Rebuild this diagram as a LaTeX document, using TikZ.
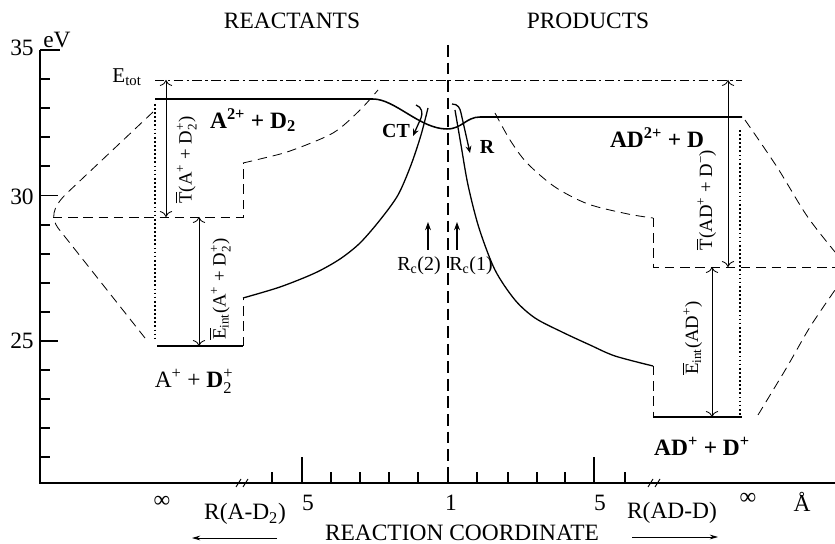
\documentclass[tikz,border=0pt]{standalone}
\usepackage{amsmath}
\usepackage{fontspec}
\setmainfont{Liberation Serif}
\usetikzlibrary{arrows.meta,positioning}

\newcommand{\ov}[1]{$\overline{\mbox{#1}}$}
\newcommand{\su}[1]{\textsuperscript{#1}}
\newcommand{\lo}[1]{\textsubscript{#1}}
\newcommand{\supsub}[2]{$^{\text{#1}}_{\text{#2}}$}

\begin{document}
\begin{tikzpicture}[x=0.03cm,y=-0.03cm,
  axisline/.style={line width=1.7pt},
  eline/.style={line width=1.3pt},
  curve/.style={line width=1.1pt},
  dashcurve/.style={line width=0.7pt,dash pattern=on 8pt off 5pt},
  dotline/.style={line width=0.9pt,dash pattern=on 1.5pt off 2pt},
  totline/.style={line width=0.7pt,dash pattern=on 8pt off 3pt on 2pt off 3pt},
  centerdash/.style={line width=0.9pt,dash pattern=on 10pt off 5pt},
  dimarrow/.style={line width=0.7pt,{To[length=5pt]}-{To[length=5pt]}},
  uparrow/.style={line width=0.9pt,-{Stealth[length=7pt,width=5pt]}},
  txt/.style={inner sep=0pt,font=\fontsize{20}{24}\selectfont},
  boldtxt/.style={inner sep=0pt,font=\fontsize{20}{24}\selectfont\bfseries},
  smalltxt/.style={inner sep=0pt,font=\fontsize{16}{19}\selectfont}]
\useasboundingbox (0,0) rectangle (835,544);

% Axes
\draw[axisline] (40,50) -- (40,483) -- (835,483);
\draw[axisline] (40,50) -- (60,50);
\foreach \i in {1,...,14}
  \draw[axisline] (40,50+29.1*\i) -- ++(10,0);
\foreach \i in {5,10}
  \draw[axisline] (40,50+29.1*\i) -- ++(18,0);
\foreach \x in {272,331,360,389,418,477,508,537,565,625}
  \draw[axisline] (\x,483) -- ++(0,-11);
\foreach \x in {302,594}
  \draw[axisline] (\x,483) -- ++(0,-26);
\draw[axisline] (448,483) -- ++(0,-16);
\foreach \x in {243,655}
  \draw[line width=0.8pt] (\x-7,487) -- (\x-2,479) (\x,487) -- (\x+5,479);

\node[txt] (n35) at (22,48) {35};
\node[txt] (n30) at (22,197) {30};
\node[txt] (n25) at (22,341) {25};
\node[txt] (ev) at (57,40) {eV};

% Center line
\coordinate (ctop) at (448,45);
\coordinate (cbot) at (448,483);
\draw[centerdash] (ctop) -- (cbot);

% Total energy and levels
\draw[totline] (155,80) -- (742,80);
\node[inner sep=0pt,font=\fontsize{18}{21}\selectfont] (etot) at (127,77) {E\lo{tot}};
\draw[eline] (155,99) -- (373,99) .. controls (395,99) and (420,129) .. (447,129)
  .. controls (462,129) and (466,117) .. (480,117) -- (742,117);
\draw[eline] (157,346) -- (243,346);
\draw[eline] (653,417) -- (742,417);
\draw[dotline] (155,104) -- (155,338);
\draw[dotline] (740,130) -- (740,418);

% Reactant side curves
\draw[dashcurve] (243,346) -- (243,298);
\draw[curve] plot[smooth] coordinates {(243,298) (280,287) (315,273) (340,259)
  (360,243) (380,220) (398,195) (411,165) (421,135) (428,108)};
\draw[dashcurve] (53,217) -- (243,217) -- (243,163);
\draw[dashcurve] plot[smooth] coordinates {(243,163) (260,159) (290,151)
  (333,133) (360,110) (378,90)};
\draw[dashcurve] (153,112) -- (66,194) .. controls (52,208) and (51,218) .. (58,228)
  -- (145,338);

% Product side curves
\draw[curve] plot[smooth] coordinates {(455,110) (461,145) (468,185) (479,228)
  (495,270) (515,300) (535,318) (562,332) (590,345) (615,356) (653,366)};
\draw[dashcurve] (653,366) -- (653,417);
\draw[dashcurve] plot[smooth] coordinates {(495,113) (510,140) (527,163)
  (555,187) (588,204) (628,214) (653,218)};
\draw[dashcurve] (653,218) -- (653,267) -- (835,267);
\draw[dashcurve] plot[smooth] coordinates {(745,120) (777,167) (807,216) (835,252)};
\draw[dashcurve] plot[smooth] coordinates {(758,415) (787,367) (810,327) (835,290)};

% CT and R
\draw[curve,-{Stealth[length=6pt,width=5pt]}] (416,105) .. controls (422,107) and (423,113) .. (421,118) -- (413,136);
\draw[curve,-{Stealth[length=6pt,width=5pt]}] (452,104) .. controls (458,104) and (460,108) .. (461,113) -- (470,153);
\node[inner sep=0pt,font=\fontsize{17}{20}\selectfont\bfseries] (ct) at (396,131) {CT};
\node[inner sep=0pt,font=\fontsize{17}{20}\selectfont\bfseries] (rlab) at (487,147) {R};

% Crossing radii
\coordinate (rc2a) at (428,250);
\coordinate (rc2b) at (428,222);
\coordinate (rc1a) at (457,250);
\coordinate (rc1b) at (457,222);
\draw[uparrow] (rc2a) -- (rc2b);
\draw[uparrow] (rc1a) -- (rc1b);
\node[inner sep=0pt,font=\fontsize{17}{20}\selectfont] (rc2) at (419,266) {R\lo{c}(2)};
\node[inner sep=0pt,font=\fontsize{17}{20}\selectfont] (rc1) at (471,266) {R\lo{c}(1)};

% Energy arrows
\coordinate (t1a) at (166,80);
\coordinate (t1b) at (166,217);
\coordinate (e1a) at (199,217);
\coordinate (e1b) at (199,346);
\coordinate (t2a) at (728,80);
\coordinate (t2b) at (728,267);
\coordinate (e2a) at (712,267);
\coordinate (e2b) at (712,417);
\draw[dimarrow] (t1a) -- (t1b);
\draw[dimarrow] (e1a) -- (e1b);
\draw[dimarrow] (t2a) -- (t2b);
\draw[dimarrow] (e2a) -- (e2b);
\node[smalltxt,rotate=90] (tlab1) at (186,160) {\ov{T}(A\su{+} + D\supsub{+}{2})};
\node[smalltxt,rotate=90] (elab1) at (220,289) {\ov{E}\lo{int}(A\su{+} + D\supsub{+}{2})};
\node[smalltxt,rotate=90] (tlab2) at (706,200) {\ov{T}(AD\su{+} + D\su{−})};
\node[smalltxt,rotate=90] (elab2) at (692,338) {\ov{E}\lo{int}(AD\su{+})};

% Species
\node[boldtxt] (reac1) at (253,120) {A\su{2+} + D\lo{2}};
\node[txt] (reac2) at (194,381) {A\su{+} + {\bfseries D}\supsub{+}{2}};
\node[boldtxt] (prod1) at (657,138) {AD\su{2+} + D};
\node[boldtxt] (prod2) at (702,446) {AD\su{+} + D\su{+}};

% Titles and bottom labels
\node[txt] (reac) at (292,21) {REACTANTS};
\node[txt] (prod) at (588,21) {PRODUCTS};
\node[txt] (inf1) at (162,502) {∞};
\node[txt] (five1) at (308,503) {5};
\node[txt] (one) at (451,503) {1};
\node[txt] (five2) at (600,503) {5};
\node[txt] (inf2) at (748,499) {∞};
\node[txt] (ang) at (802,502) {Å};
\node[txt] (rad) at (245,514) {R(A-D\lo{2})};
\node[txt] (radd) at (672,513) {R(AD-D)};
\node[txt] (rcoord) at (462,533) {REACTION COORDINATE};
\coordinate (la) at (277,538);
\coordinate (lb) at (192,538);
\coordinate (ra) at (632,537);
\coordinate (rb) at (718,537);
\draw[line width=0.7pt,-{Stealth[length=7pt,width=4pt]}] (la) -- (lb);
\draw[line width=0.7pt,-{Stealth[length=7pt,width=4pt]}] (ra) -- (rb);
\end{tikzpicture}
\end{document}
